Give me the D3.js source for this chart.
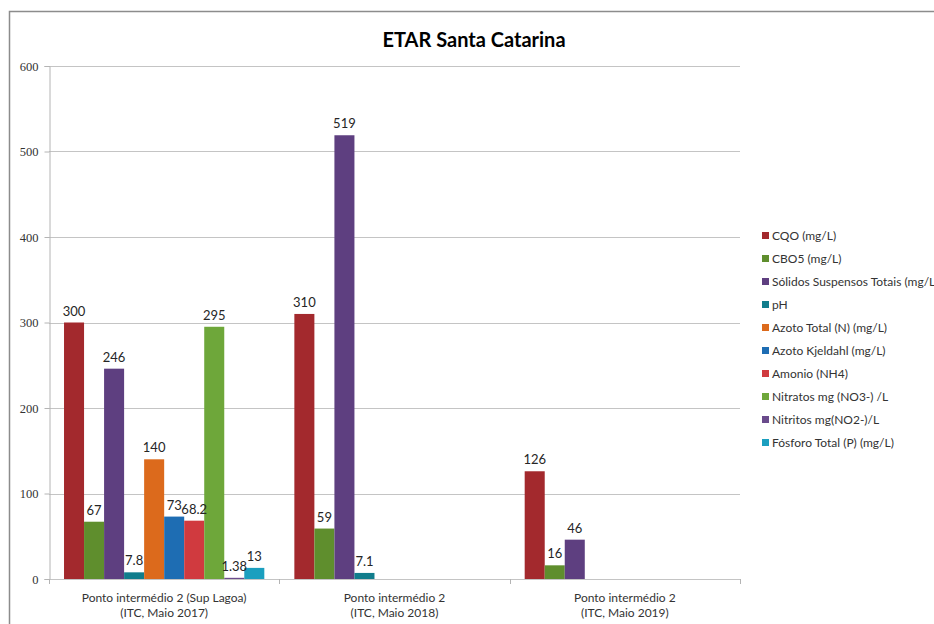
<!DOCTYPE html>
<html>
<head>
<meta charset="utf-8">
<script src="https://cdn.jsdelivr.net/npm/d3@7"></script>
<style>
  body { margin: 0; background: #fff; }
  svg { font-family: Lato, "Open Sans", sans-serif; }
</style>
</head>
<body>
<svg id="chart" width="934" height="624"></svg>
<script>
// ----------- DATA -----------
const categories = [
  ["Ponto intermédio 2 (Sup Lagoa)", "(ITC, Maio 2017)"],
  ["Ponto intermédio 2", "(ITC, Maio 2018)"],
  ["Ponto intermédio 2", "(ITC, Maio 2019)"]
];

const seriesNames = [
  "CQO (mg/L)",
  "CBO5 (mg/L)",
  "Sólidos Suspensos Totais (mg/L)",
  "pH",
  "Azoto Total (N) (mg/L)",
  "Azoto Kjeldahl (mg/L)",
  "Amonio (NH4)",
  "Nitratos mg (NO3-) /L",
  "Nitritos mg(NO2-)/L",
  "Fósforo Total (P) (mg/L)"
];

// one value per category, null = no measurement
const cqo       = [300, 310, 126];
const cbo5      = [67, 59, 16];
const sst       = [246, 519, 46];
const ph        = [7.8, 7.1, null];
const azotoTot  = [140, null, null];
const kjeldahl  = [73, null, null];
const amonio    = [68.2, null, null];
const nitratos  = [295, null, null];
const nitritos  = [1.38, null, null];
const fosforo   = [13, null, null];

const seriesValues = [cqo, cbo5, sst, ph, azotoTot, kjeldahl, amonio, nitratos, nitritos, fosforo];

const colors = [
  "#a3292d", "#5f8e2d", "#5e3f80", "#117d8c", "#dc6a1c",
  "#1e6db3", "#d03a3f", "#6ea73a", "#6a4b8c", "#1b9fbf"
];

const yTicks = [0, 100, 200, 300, 400, 500, 600];

// ----------- CHART -----------
const svg = d3.select("#chart");

const plot = { left: 49, right: 740, top: 66, bottom: 579 };

// outer frame (cut off at right and bottom, like the picture)
svg.append("path")
  .attr("d", "M9.5,640 L9.5,11.5 L940,11.5")
  .attr("fill", "none")
  .attr("stroke", "#8c8c8c")
  .attr("stroke-width", 1.5);

svg.append("text")
  .attr("x", 474)
  .attr("y", 47)
  .attr("text-anchor", "middle")
  .attr("font-size", 20)
  .attr("font-weight", "bold")
  .attr("fill", "#000")
  .text("ETAR Santa Catarina");

const y = d3.scaleLinear().domain([0, 600]).range([plot.bottom, plot.top]);

const x0 = d3.scaleBand()
  .domain(d3.range(categories.length))
  .range([plot.left, plot.right]);

const x1 = d3.scaleBand()
  .domain(d3.range(seriesNames.length))
  .range([0, x0.bandwidth()])
  .paddingOuter(0.75);

// gridlines
svg.append("g")
  .selectAll("line")
  .data(yTicks)
  .enter()
  .append("line")
  .attr("x1", plot.left)
  .attr("x2", plot.right)
  .attr("y1", d => Math.round(y(d)) + 0.5)
  .attr("y2", d => Math.round(y(d)) + 0.5)
  .attr("stroke", "#c4c4c4");

// y axis
const yAxis = svg.append("g")
  .attr("transform", `translate(${plot.left + 0.5},0)`)
  .call(d3.axisLeft(y).tickValues(yTicks).tickSize(5).tickPadding(6));
yAxis.select(".domain").attr("stroke", "#b4b4b4");
yAxis.selectAll(".tick line").attr("stroke", "#b4b4b4");
yAxis.selectAll(".tick text")
  .attr("font-family", "'Liberation Serif', serif")
  .attr("font-size", 12.5)
  .attr("fill", "#333");

// category boundary ticks
svg.append("g")
  .selectAll("line")
  .data(d3.range(categories.length + 1))
  .enter()
  .append("line")
  .attr("x1", d => Math.round(plot.left + d * x0.bandwidth()) + 0.5)
  .attr("x2", d => Math.round(plot.left + d * x0.bandwidth()) + 0.5)
  .attr("y1", plot.bottom)
  .attr("y2", plot.bottom + 5)
  .attr("stroke", "#b4b4b4");

// bars
const bars = [];
seriesValues.forEach((vals, s) => {
  vals.forEach((v, c) => {
    if (v !== null) bars.push({ s, c, v });
  });
});

svg.append("g")
  .selectAll("rect")
  .data(bars)
  .enter()
  .append("rect")
  .attr("x", d => x0(d.c) + x1(d.s))
  .attr("y", d => y(d.v))
  .attr("width", x1.bandwidth())
  .attr("height", d => y(0) - y(d.v))
  .attr("fill", d => colors[d.s]);

// value labels
svg.append("g")
  .selectAll("text")
  .data(bars)
  .enter()
  .append("text")
  .attr("x", d => x0(d.c) + x1(d.s) + x1.bandwidth() / 2)
  .attr("y", d => y(d.v) - 7)
  .attr("text-anchor", "middle")
  .attr("font-size", 13)
  .attr("fill", "#262626")
  .text(d => d.v);

// category labels
const catG = svg.append("g");
categories.forEach((lines, c) => {
  lines.forEach((t, i) => {
    catG.append("text")
      .attr("x", x0(c) + x0.bandwidth() / 2)
      .attr("y", 602 + i * 15)
      .attr("text-anchor", "middle")
      .attr("font-size", 12)
      .attr("fill", "#333")
      .text(t);
  });
});

// legend
const legend = svg.append("g")
  .selectAll("g")
  .data(seriesNames)
  .enter()
  .append("g")
  .attr("transform", (d, i) => `translate(762,${236 + i * 23})`);

legend.append("rect")
  .attr("x", 0)
  .attr("y", -4)
  .attr("width", 7)
  .attr("height", 7)
  .attr("fill", (d, i) => colors[i]);

legend.append("text")
  .attr("x", 10)
  .attr("y", 4)
  .attr("font-size", 12)
  .attr("fill", "#333")
  .text(d => d);
</script>
</body>
</html>
